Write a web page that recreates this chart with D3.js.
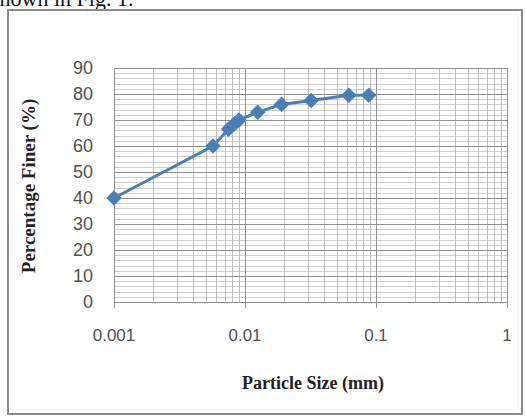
<!DOCTYPE html>
<html><head><meta charset="utf-8">
<script src="https://cdn.jsdelivr.net/npm/d3@7"></script>
<style>body{margin:0;background:#fff;}svg{display:block;}</style>
</head><body>
<script>
const sizes = [0.001, 0.0057, 0.0075, 0.0083, 0.009, 0.0125, 0.019, 0.032, 0.062, 0.088];
const finer = [40, 60, 66.5, 68.5, 70, 73, 76, 77.5, 79.5, 79.5];
const yTicks = [0,10,20,30,40,50,60,70,80,90];
const xTicks = [0.001, 0.01, 0.1, 1];
const xTickLabels = ["0.001","0.01","0.1","1"];

const W=525,H=419;
const svg=d3.select("body").append("svg").attr("width",W).attr("height",H);
svg.append("rect").attr("width",W).attr("height",H).attr("fill","#fff");

// caption text fragment at top (cut off in the reference too)
svg.append("text").attr("x",-9).attr("y",6).attr("font-family","Liberation Serif")
  .attr("font-size",22).attr("fill","#111").text("shown in Fig. 1.");

// outer frame
svg.append("rect").attr("x",8).attr("y",10).attr("width",514).attr("height",404)
  .attr("fill","#fff").attr("stroke","#8a8a8a").attr("stroke-width",2);
svg.append("rect").attr("x",12).attr("y",14).attr("width",506).attr("height",396)
  .attr("fill","none").attr("stroke","#f0f0f0").attr("stroke-width",1);

const x=d3.scaleLog().domain([0.001,1]).range([114,507]);
const y=d3.scaleLinear().domain([0,90]).range([302,68]);

const g=svg.append("g");
g.selectAll("line.hmin").data(d3.range(0,91,2)).enter().append("line")
  .attr("x1",x(0.001)).attr("x2",x(1)).attr("y1",d=>Math.round(y(d))+0.5).attr("y2",d=>Math.round(y(d))+0.5)
  .attr("stroke","#cfcfcf").attr("stroke-width",1);
const minorX=[];
[0.001,0.01,0.1].forEach(b=>{for(let k=2;k<=9;k++)minorX.push(b*k);});
g.selectAll("line.vmin").data(minorX).enter().append("line")
  .attr("x1",d=>Math.round(x(d))+0.5).attr("x2",d=>Math.round(x(d))+0.5).attr("y1",y(90)).attr("y2",y(0))
  .attr("stroke","#bdbdbd").attr("stroke-width",1);
g.selectAll("line.hmaj").data(yTicks).enter().append("line")
  .attr("x1",x(0.001)).attr("x2",x(1)).attr("y1",d=>Math.round(y(d))+0.5).attr("y2",d=>Math.round(y(d))+0.5)
  .attr("stroke","#8f8f8f").attr("stroke-width",1);
g.selectAll("line.vmaj").data(xTicks).enter().append("line")
  .attr("x1",d=>Math.round(x(d))+0.5).attr("x2",d=>Math.round(x(d))+0.5).attr("y1",y(90)).attr("y2",y(0)+6)
  .attr("stroke","#8f8f8f").attr("stroke-width",1);

svg.selectAll("text.yl").data(yTicks).enter().append("text")
  .attr("x",93).attr("y",d=>y(d)).attr("dy","0.36em").attr("text-anchor","end")
  .attr("font-family","Liberation Sans").attr("font-size",18).attr("fill","#505050").text(d=>d);
svg.selectAll("text.xl").data(xTicks).enter().append("text")
  .attr("x",d=>x(d)).attr("y",335).attr("dy","0.36em").attr("text-anchor","middle")
  .attr("font-family","Liberation Sans").attr("font-size",17).attr("fill","#505050")
  .text((d,i)=>xTickLabels[i]);

svg.append("text").attr("transform","translate(35,186) rotate(-90)").attr("text-anchor","middle")
  .attr("font-family","Liberation Serif").attr("font-weight","bold").attr("font-size",19)
  .attr("fill","#222").text("Percentage Finer (%)");
svg.append("text").attr("x",313).attr("y",389).attr("text-anchor","middle")
  .attr("font-family","Liberation Serif").attr("font-weight","bold").attr("font-size",18)
  .attr("fill","#222").text("Particle Size (mm)");

const pts=sizes.map((s,i)=>[s,finer[i]]);
svg.append("path").datum(pts).attr("fill","none").attr("stroke","#4a7ebb").attr("stroke-width",3)
  .attr("d",d3.line().x(d=>x(d[0])).y(d=>y(d[1])));
svg.selectAll("rect.m").data(pts).enter().append("rect")
  .attr("x",-5).attr("y",-5).attr("width",10).attr("height",10)
  .attr("transform",d=>`translate(${x(d[0])},${y(d[1])}) rotate(45)`)
  .attr("fill","#4a7ebb").attr("stroke","#4a7ebb").attr("stroke-width",1);
</script>
</body></html>
